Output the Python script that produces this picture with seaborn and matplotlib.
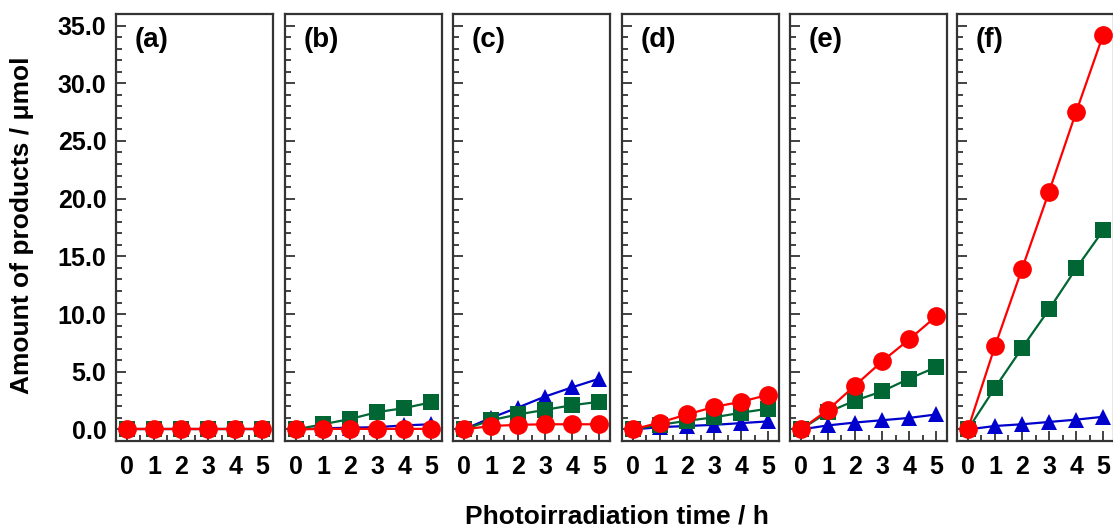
import numpy as np
import pandas as pd

import matplotlib
matplotlib.use('Agg')
import matplotlib.pyplot as plt
from matplotlib.ticker import MultipleLocator, FormatStrFormatter
import seaborn as sns


# ------------------- DATA -------------------
hours = [0, 1, 2, 3, 4, 5]
panels = ['(a)', '(b)', '(c)', '(d)', '(e)', '(f)']

# red circles
co = [
    [0, 0, 0, 0, 0, 0],
    [0, 0.05, 0.05, 0.05, 0.05, 0.05],
    [0, 0.3, 0.4, 0.45, 0.45, 0.45],
    [0, 0.6, 1.3, 1.95, 2.4, 3.0],
    [0, 1.7, 3.8, 5.9, 7.8, 9.8],
    [0, 7.2, 13.9, 20.6, 27.5, 34.2],
]
# green squares
o2 = [
    [0, 0, 0, 0, 0, 0],
    [0, 0.45, 0.9, 1.5, 1.85, 2.35],
    [0, 0.8, 1.3, 1.7, 2.1, 2.4],
    [0, 0.4, 0.75, 1.05, 1.45, 1.8],
    [0, 1.5, 2.5, 3.3, 4.4, 5.4],
    [0, 3.6, 7.05, 10.4, 13.95, 17.25],
]
# blue triangles
h2 = [
    [0, 0, 0, 0, 0, 0],
    [0, 0.1, 0.15, 0.2, 0.35, 0.45],
    [0, 1.0, 1.9, 2.85, 3.65, 4.4],
    [0, 0.2, 0.3, 0.4, 0.55, 0.7],
    [0, 0.35, 0.6, 0.8, 1.0, 1.3],
    [0, 0.3, 0.45, 0.65, 0.85, 1.1],
]

products = ['H2', 'O2', 'CO']
colors = {'H2': '#0000CC', 'O2': '#006633', 'CO': '#FF0000'}
markers = {'H2': '^', 'O2': 's', 'CO': 'o'}
sizes = {'H2': 11.5, 'O2': 11.5, 'CO': 13.5}
values = {'H2': h2, 'O2': o2, 'CO': co}

rows = []
for i, p in enumerate(panels):
    for prod in products:
        for t, v in zip(hours, values[prod][i]):
            rows.append({'panel': p, 'time': t, 'product': prod, 'amount': v})
df = pd.DataFrame(rows)


# ------------------- PLOT -------------------
sns.set_style("ticks")
plt.rcParams['font.family'] = ['Liberation Sans', 'DejaVu Sans']
plt.rcParams['font.weight'] = 'bold'
plt.rcParams['text.color'] = 'black'
plt.rcParams['xtick.labelcolor'] = 'black'
plt.rcParams['ytick.labelcolor'] = 'black'

W, H = 1113, 526
fig = plt.figure(figsize=(W / 100, H / 100), dpi=100)

lefts = [116, 285, 453, 622, 790, 957]
ax_w = 157
ax_top, ax_bot = 14, 441

for i, p in enumerate(panels):
    ax = fig.add_axes([lefts[i] / W, 1 - ax_bot / H, ax_w / W, (ax_bot - ax_top) / H])
    sub = df[df['panel'] == p]
    # blue first, red on top
    for prod in products:
        s = sub[sub['product'] == prod]
        sns.lineplot(data=s, x='time', y='amount', ax=ax, color=colors[prod],
                     marker=markers[prod], markersize=sizes[prod],
                     markeredgewidth=0, linewidth=1.6, legend=False)

    ax.set_xlim(-0.4, 5.4)
    ax.set_ylim(-1.0, 36.0)
    ax.xaxis.set_major_locator(MultipleLocator(1))
    ax.xaxis.set_minor_locator(MultipleLocator(0.5))
    ax.yaxis.set_major_locator(MultipleLocator(5))
    ax.yaxis.set_minor_locator(MultipleLocator(1))
    ax.yaxis.set_major_formatter(FormatStrFormatter('%.1f'))
    ax.tick_params(which='both', direction='in', top=False, right=False,
                   color='#222222', width=1.2)
    ax.tick_params(which='major', length=7, labelsize=18, pad=7)
    ax.tick_params(which='minor', length=4)
    ax.tick_params(axis='x', pad=10)
    if i > 0:
        ax.tick_params(axis='y', labelleft=False)
    for lab in ax.get_xticklabels() + ax.get_yticklabels():
        lab.set_fontweight('bold')
    for sp in ax.spines.values():
        sp.set_visible(True)
        sp.set_color('#333333')
        sp.set_linewidth(1.6)
    ax.set_xlabel('')
    ax.set_ylabel('')
    ax.text(0.12, 0.94, p, transform=ax.transAxes, fontsize=20,
            fontweight='bold', va='center', ha='left')

fig.text(617 / W, 1 - 516 / H, 'Photoirradiation time / h', ha='center',
         va='center', fontsize=19, fontweight='bold')
fig.text(22 / W, 1 - 225 / H, 'Amount of products / μmol', ha='center',
         va='center', rotation=90, fontsize=19, fontweight='bold')

fig.savefig('out.png', dpi=100)
plt.close(fig)
